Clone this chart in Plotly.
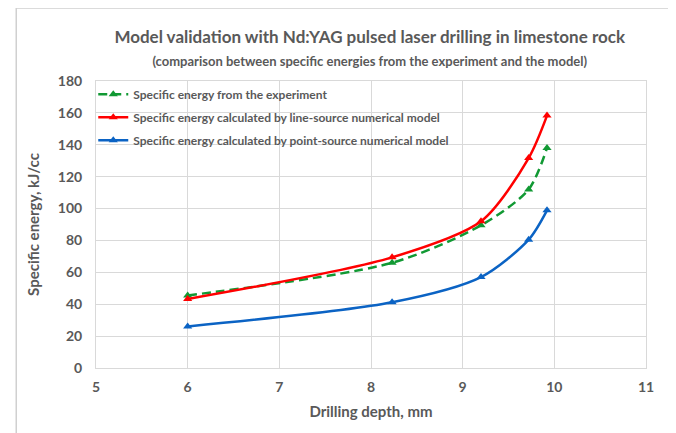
import plotly.graph_objects as go

depth = [6.0, 8.23, 9.2, 9.72, 9.92]
exp_energy = [45.5, 66.0, 89.5, 112.0, 138.0]
line_energy = [43.3, 69.4, 92.0, 131.7, 158.3]
point_energy = [26.1, 41.2, 57.0, 80.5, 98.9]

names = [
    "Specific energy from the experiment",
    "Specific energy calculated by line-source numerical model",
    "Specific energy calculated by point-source numerical model",
]
x_ticks = [5, 6, 7, 8, 9, 10, 11]
y_ticks = [0, 20, 40, 60, 80, 100, 120, 140, 160, 180]

FONT = "Lato, Open Sans, sans-serif"
GRAY = "#595959"

fig = go.Figure()
series = [
    (exp_energy, "#119933", "dash", names[0]),
    (line_energy, "#ff0000", "solid", names[1]),
    (point_energy, "#0b63c4", "solid", names[2]),
]
for i, (vals, col, dash, nm) in enumerate(series):
    fig.add_trace(go.Scatter(
        x=depth, y=vals, name=nm, mode="lines+markers",
        line=dict(color=col, width=2.5, dash="9px,5px" if dash == "dash" else "solid",
                  shape="spline", smoothing=0.8),
        marker=dict(symbol="triangle-up", size=8, color=col),
        legendgroup=f"g{i}",
    ))

fig.update_layout(
    width=668, height=425,
    margin=dict(l=88, r=30, t=73, b=65),
    paper_bgcolor="white", plot_bgcolor="white",
    font=dict(family=FONT, color=GRAY, size=13),
    title=dict(
        text="<b>Model validation with Nd:YAG pulsed laser drilling in limestone rock</b>"
             "<br><span style='font-size:13px'><b>(comparison between specific energies from the experiment and the model)</b></span>",
        x=0.5415, xanchor="center", y=0.9165, yanchor="top",
        font=dict(size=17, color=GRAY, family=FONT),
    ),
    legend=dict(
        x=-0.005, y=1.004, xanchor="left", yanchor="top",
        bgcolor="rgba(255,255,255,0)",
        font=dict(size=12, color=GRAY, family=FONT, weight="bold"),
        tracegroupgap=4, traceorder="grouped", itemwidth=30,
    ),
    xaxis=dict(
        range=[5, 11], tickvals=x_ticks, showgrid=True, gridcolor="#d9d9d9",
        gridwidth=1, zeroline=False, showline=True, linecolor="#d9d9d9", mirror=True,
        ticks="", ticklabelstandoff=6,
        tickfont=dict(size=14, color=GRAY, family=FONT, weight="bold"),
        title=dict(text="<b>Drilling depth, mm</b>", font=dict(size=15, color=GRAY), standoff=12),
    ),
    yaxis=dict(
        range=[0, 180], tickvals=y_ticks, showgrid=True, gridcolor="#d9d9d9",
        gridwidth=1, zeroline=False, showline=True, linecolor="#d9d9d9", mirror=True,
        ticks="", ticklabelstandoff=10,
        tickfont=dict(size=14, color=GRAY, family=FONT, weight="bold"),
        title=dict(text="<b>Specific energy, kJ/cc</b>", font=dict(size=15, color=GRAY), standoff=14),
    ),
    showlegend=True,
)
fig.add_shape(type="rect", xref="paper", yref="paper",
              x0=-0.145, x1=1.0436, y0=-0.3, y1=1.254,
              line=dict(color="#d0d0d0", width=1.5), layer="above")

fig.write_html("out.html")
